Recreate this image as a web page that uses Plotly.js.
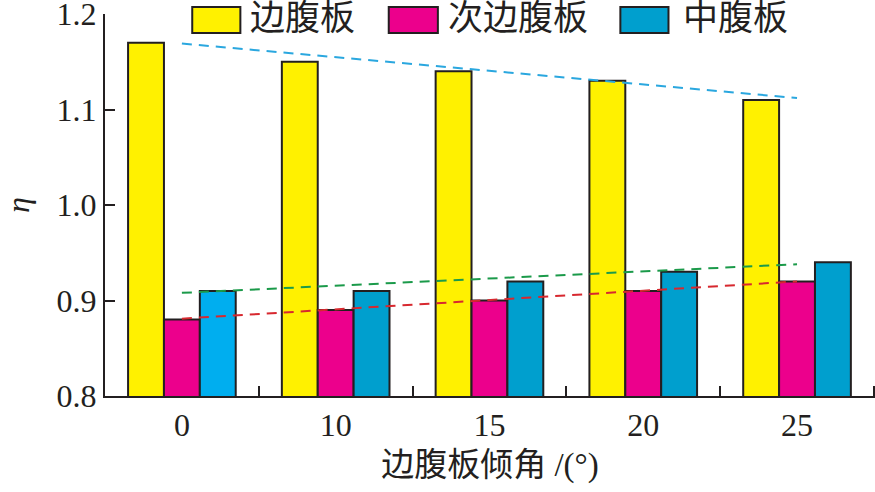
<!DOCTYPE html>
<html>
<head>
<meta charset="utf-8">
<script src="https://cdn.plot.ly/plotly-3.0.1.min.js"></script>
<style>html,body{margin:0;padding:0;background:#fff;}#chart{width:875px;height:492px;}</style>
</head>
<body>
<div id="chart"></div>
<script>
// ---- data ----
const categories = ['0', '10', '15', '20', '25'];
const bianFuBan = [1.17, 1.15, 1.14, 1.13, 1.11];      // 边腹板
const ciBianFuBan = [0.88, 0.89, 0.90, 0.91, 0.92];    // 次边腹板
const zhongFuBan = [0.91, 0.91, 0.92, 0.93, 0.94];     // 中腹板
const trendX = ['0', '25'];
const trendBian = [1.169, 1.112];
const trendZhong = [0.908, 0.938];
const trendCi = [0.881, 0.920];
const seriesNames = ['边腹板', '次边腹板', '中腹板'];
const yTicks = [0.8, 0.9, 1.0, 1.1, 1.2];
const yTickText = ['0.8', '0.9', '1.0', '1.1', '1.2'];

const ink = '#231F20';
const serif = 'Liberation Serif, Times New Roman, Noto Sans CJK SC, serif';
const cjk = 'Liberation Serif, Noto Sans CJK SC, sans-serif';
const colYellow = '#FFF100';
const colMagenta = '#EC008C';
const colBlue = '#009FCE';
const blueColors = zhongFuBan.map((v, i) => i === 0 ? '#00AEEF' : colBlue);

const barLine = {color: ink, width: 2};
const traces = [
  {type: 'bar', x: categories, y: bianFuBan, name: seriesNames[0], marker: {color: colYellow, line: barLine}},
  {type: 'bar', x: categories, y: ciBianFuBan, name: seriesNames[1], marker: {color: colMagenta, line: barLine}},
  {type: 'bar', x: categories, y: zhongFuBan, name: seriesNames[2], marker: {color: blueColors, line: barLine}},
  {type: 'scatter', mode: 'lines', x: trendX, y: trendBian, line: {color: '#2AA7DF', width: 2, dash: '10px,7px'}},
  {type: 'scatter', mode: 'lines', x: trendX, y: trendZhong, line: {color: '#1B9A4A', width: 2, dash: '10px,7px'}},
  {type: 'scatter', mode: 'lines', x: trendX, y: trendCi, line: {color: '#D7282F', width: 2, dash: '10px,7px'}}
];

// legend drawn manually (paper coordinates)
const legendItems = [
  {x0: 0.1133, x1: 0.1758, tx: 0.1862, color: colYellow, text: seriesNames[0]},
  {x0: 0.3685, x1: 0.4323, tx: 0.4427, color: colMagenta, text: seriesNames[1]},
  {x0: 0.6693, x1: 0.7318, tx: 0.7487, color: colBlue, text: seriesNames[2]}
];
const shapes = legendItems.map(it => ({
  type: 'rect', xref: 'paper', yref: 'paper', x0: it.x0, x1: it.x1, y0: 0.9503, y1: 1.0183,
  fillcolor: it.color, line: {color: ink, width: 2}
}));
const annotations = legendItems.map(it => ({
  xref: 'paper', yref: 'paper', x: it.tx, y: 0.987, xanchor: 'left', yanchor: 'middle',
  text: it.text, showarrow: false, font: {family: cjk, size: 35, color: ink}
}));

const layout = {
  width: 875, height: 492,
  margin: {l: 105, r: 0, t: 14, b: 96},
  paper_bgcolor: '#fff', plot_bgcolor: '#fff',
  showlegend: false,
  barmode: 'group', bargap: 0.30, bargroupgap: 0,
  xaxis: {
    type: 'category', range: [-0.5, 4.507],
    showline: true, linecolor: ink, linewidth: 2,
    ticks: 'inside', tickson: 'boundaries', ticklen: 10, tickwidth: 2, tickcolor: ink,
    showgrid: false, zeroline: false, ticklabeloverflow: 'allow',
    tickfont: {family: serif, size: 32, color: ink},
    title: {text: '边腹板倾角 /(°)', font: {family: cjk, size: 33, color: ink}, standoff: 10}
  },
  yaxis: {
    range: [0.8, 1.2],
    tickvals: yTicks, ticktext: yTickText,
    showline: true, linecolor: ink, linewidth: 2,
    ticks: 'inside', ticklen: 10, tickwidth: 2, tickcolor: ink,
    showgrid: false, zeroline: false, ticklabeloverflow: 'allow',
    tickfont: {family: serif, size: 32, color: ink},
    title: {text: '<i>η</i>', font: {family: serif, size: 32, color: ink}, standoff: 30}
  },
  shapes: shapes,
  annotations: annotations
};

Plotly.newPlot('chart', traces, layout, {displayModeBar: false, staticPlot: true});
</script>
</body>
</html>
